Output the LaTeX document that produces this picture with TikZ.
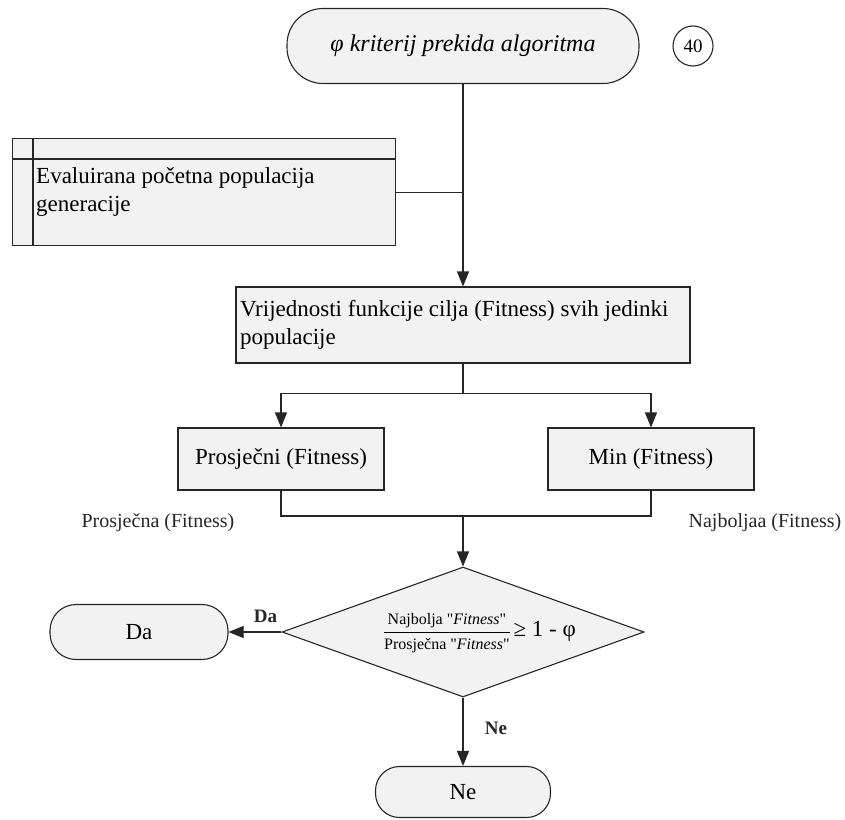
\documentclass[tikz,border=0pt]{standalone}
\usepackage{fontspec}
\setmainfont{Liberation Serif}
\usetikzlibrary{shapes.geometric, arrows.meta, positioning, calc}
\definecolor{flowfill}{RGB}{242,242,242}
\definecolor{flowline}{RGB}{38,38,38}

\begin{document}
\begin{tikzpicture}[
  x=1pt, y=-1pt,
  font=\fontsize{23}{28}\selectfont,
  proc/.style={rectangle, draw=flowline, fill=flowfill, line width=1.1pt, inner sep=4pt},
  term/.style={rectangle, rounded corners=26pt, draw=flowline, fill=flowfill, line width=1.1pt, align=center},
  side/.style={font=\fontsize{20}{24}\selectfont, text=flowline},
  ans/.style={font=\bfseries\fontsize{19}{22}\selectfont},
  arr/.style={-{Triangle[length=15pt, width=12pt]}, line width=1.1pt, flowline},
  con/.style={line width=1.1pt, flowline}
]
  \useasboundingbox (0,0) rectangle (845,819);
  % Start
  \node[term, rounded corners=36pt, minimum width=352pt, minimum height=75pt, font=\itshape\fontsize{24}{28}\selectfont] (start) at (463,46) {φ kriterij prekida algoritma};
  \node[circle, draw=flowline, line width=1.1pt, minimum size=40pt, inner sep=0pt, font=\fontsize{19}{22}\selectfont] (num40) at (693,46) {40};
  % Input data
  \node[proc, anchor=north west, minimum width=383pt, minimum height=107pt] (eval) at (12,138) {};
  \draw[con] ([yshift=-21pt]eval.north west) -- ([yshift=-21pt]eval.north east);
  \draw[con] ([xshift=21pt]eval.north west) -- ([xshift=21pt]eval.south west);
  \node[anchor=north west, align=left, inner sep=0pt] (evaltext) at (36,167) {Evaluirana početna populacija\\generacije};
  % Fitness
  \node[proc, minimum width=454pt, minimum height=76pt, text width=446pt, align=flush left] (fit) at (463,325) {Vrijednosti funkcije cilja (Fitness) svih jedinki\\populacije};
  \node[proc, minimum width=206pt, minimum height=62pt] (avg) at (281,459) {Prosječni (Fitness)};
  \node[proc, minimum width=206pt, minimum height=62pt] (min) at (651,459) {Min (Fitness)};
  \node[side] (avglab) at (158,523) {Prosječna (Fitness)};
  \node[side] (minlab) at (765,523) {Najboljaa (Fitness)};
  % Decision
  \node[diamond, draw=flowline, fill=flowfill, line width=1.1pt, minimum width=362pt, minimum height=130pt, inner sep=0pt] (dec) at (463,632) {};
  \node[inner sep=0pt] (cond) at (480,632) {\setlength{\arrayrulewidth}{1pt}\renewcommand{\arraystretch}{1.25}{\fontsize{16}{19}\selectfont\begin{tabular}{@{}c@{}}Najbolja \textquotedbl\textit{Fitness}\textquotedbl\\\hline Prosječna \textquotedbl\textit{Fitness}\textquotedbl\end{tabular}}\,≥ 1 - φ};
  % Ends
  \node[term, minimum width=178pt, minimum height=55pt] (da) at (139,632) {Da};
  \node[term, rounded corners=24pt, minimum width=175pt, minimum height=51pt] (ne) at (463,792) {Ne};
  % Arrows
  \coordinate (merge) at (463,516);
  \draw[arr] (start) -- (fit);
  \draw[con] (eval.east) -- (eval.east -| start.south);
  \draw[con] (fit.south) -- ++(0,30) coordinate (split);
  \draw[arr] (split) -| (avg);
  \draw[arr] (split) -| (min);
  \draw[con] (avg.south) |- (merge) -| (min.south);
  \draw[arr] (merge) -- (dec);
  \draw[arr] (dec.west) -- (da) node[ans, pos=0.3, above=5pt] (dalab) {Da};
  \draw[arr] (dec.south) -- (ne) node[ans, pos=0.45, right=18pt] (nelab) {Ne};
\end{tikzpicture}
\end{document}
